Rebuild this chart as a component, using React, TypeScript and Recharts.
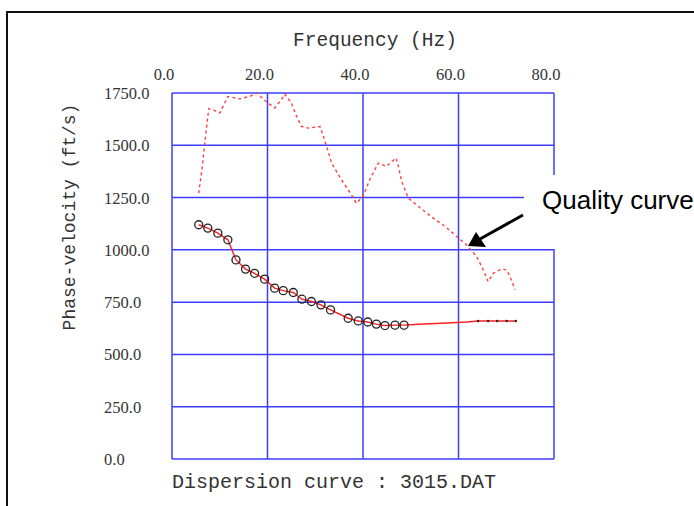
import React from "react";
import { ComposedChart, Line, Scatter, XAxis, YAxis, CartesianGrid } from "recharts";

const freqTicks = [0, 20, 40, 60, 80];
const velTicks = [0, 250, 500, 750, 1000, 1250, 1500, 1750];

const qualityFreq = [5.6, 6.3, 7.0, 7.7, 8.6, 10.0, 11.7, 14.2, 16.3, 17.7, 20.1, 21.5, 22.9, 23.6, 25.0, 26.1, 27.1, 28.5, 31.0, 31.6, 32.4, 33.4, 35.5, 37.6, 38.6, 40.0, 41.4, 43.2, 44.9, 46.9, 47.4, 48.1, 49.5, 52.0, 54.7, 57.2, 59.6, 61.7, 63.8, 65.2, 66.2, 67.3, 69.0, 70.1, 71.1, 71.8];
const qualityVel = [1271, 1390, 1540, 1675, 1670, 1654, 1733, 1722, 1734, 1750, 1702, 1678, 1718, 1745, 1702, 1638, 1590, 1582, 1590, 1550, 1494, 1415, 1335, 1263, 1223, 1255, 1335, 1415, 1399, 1439, 1399, 1327, 1247, 1200, 1152, 1112, 1064, 1024, 968, 904, 848, 888, 908, 904, 856, 809];

const measuredFreq = [5.6, 7.5, 9.6, 11.7, 13.4, 15.4, 17.3, 19.4, 21.5, 23.3, 25.4, 27.2, 29.2, 31.2, 33.2, 36.9, 39.0, 41.0, 42.8, 44.6, 46.7, 48.6];
const measuredVel = [1120, 1104, 1080, 1048, 952, 908, 888, 860, 817, 805, 796, 764, 753, 737, 713, 673, 660, 655, 645, 638, 640, 640];

const tailFreq = [51.6, 56.5, 61.7, 64.1, 66.2, 68.1, 70.1, 72.0];
const tailVel = [644, 649, 655, 660, 660, 660, 660, 660];

const dotFreq = [64.1, 66.2, 68.1, 70.1, 72.0];
const dotVel = [660, 660, 660, 660, 660];

const zip = (f: number[], v: number[]) => f.map((x, i) => ({ f: x, v: v[i] }));

const qualityData = zip(qualityFreq, qualityVel);
const measuredData = zip(measuredFreq, measuredVel);
const curveData = [...measuredData, ...zip(tailFreq, tailVel)];
const dotData = zip(dotFreq, dotVel);

const tickFont = "'Liberation Serif', 'DejaVu Serif', serif";
const mono = "'Liberation Mono', 'Courier New', monospace";

const XTick = (props: any) => {
  const { x, payload } = props;
  return (
    <text x={x - 8} y={80} textAnchor="middle" fontFamily={tickFont} fontSize={16.5} fill="#333">
      {payload.value.toFixed(1)}
    </text>
  );
};

const YTick = (props: any) => {
  const { y, payload } = props;
  return (
    <text x={104} y={y + 6} textAnchor="start" fontFamily={tickFont} fontSize={16.5} fill="#333">
      {payload.value.toFixed(1)}
    </text>
  );
};

const CircleShape = (props: any) => (
  <circle cx={props.cx} cy={props.cy} r={4} fill="none" stroke="#222" strokeWidth={1.3} />
);
const DotShape = (props: any) => (
  <circle cx={props.cx} cy={props.cy} r={1.2} fill="#222" stroke="none" />
);

export default function App() {
  return (
    <div style={{ position: "fixed", left: 0, top: 0, width: 694, height: 506, overflow: "hidden", background: "#fff" }}>
      <div style={{ position: "absolute", left: 6, top: 11, width: 800, height: 600, border: "2px solid #111" }} />
      <div style={{ position: "absolute", left: 0, top: 0 }}>
        <ComposedChart width={694} height={506} margin={{ top: 63, left: 112, right: 140, bottom: 47 }}>
          <CartesianGrid stroke="#3c3cff" strokeWidth={1.5} />
          <XAxis
            type="number"
            dataKey="f"
            orientation="top"
            domain={[0, 80]}
            ticks={freqTicks}
            height={30}
            axisLine={false}
            tickLine={false}
            tick={<XTick />}
            interval={0}
          />
          <YAxis
            type="number"
            dataKey="v"
            domain={[0, 1750]}
            ticks={velTicks}
            width={60}
            axisLine={false}
            tickLine={false}
            tick={<YTick />}
            interval={0}
            allowDataOverflow
          />
          <Line data={qualityData} dataKey="v" stroke="#ff4040" strokeWidth={1.4} strokeDasharray="3 3" dot={false} isAnimationActive={false} />
          <Line data={curveData} dataKey="v" stroke="#ff1f1f" strokeWidth={1.4} dot={false} isAnimationActive={false} />
          <Scatter data={measuredData} dataKey="v" shape={<CircleShape />} isAnimationActive={false} />
          <Scatter data={dotData} dataKey="v" shape={<DotShape />} isAnimationActive={false} />
        </ComposedChart>
      </div>
      <svg style={{ position: "absolute", left: 0, top: 0 }} width={694} height={506}>
        <text x={375} y={46} textAnchor="middle" fontFamily={mono} fontSize={19.5} fill="#333">
          Frequency (Hz)
        </text>
        <text
          x={0}
          y={0}
          transform="translate(75 217) rotate(-90)"
          textAnchor="middle"
          fontFamily={mono}
          fontSize={18}
          fill="#333"
        >
          Phase-velocity (ft/s)
        </text>
        <text x={172} y={488} textAnchor="start" fontFamily={mono} fontSize={20} fill="#333">
          Dispersion curve : 3015.DAT
        </text>
        <rect x={524} y={175} width={200} height={74} fill="#fff" />
        <text x={542} y={209} fontFamily="'Liberation Sans', Arial, sans-serif" fontSize={26} fill="#000">
          Quality curve
        </text>
        <line x1={523} y1={215} x2={480} y2={239} stroke="#000" strokeWidth={3} />
        <polygon points="468,246 476,232 486,247" fill="#000" />
      </svg>
    </div>
  );
}
